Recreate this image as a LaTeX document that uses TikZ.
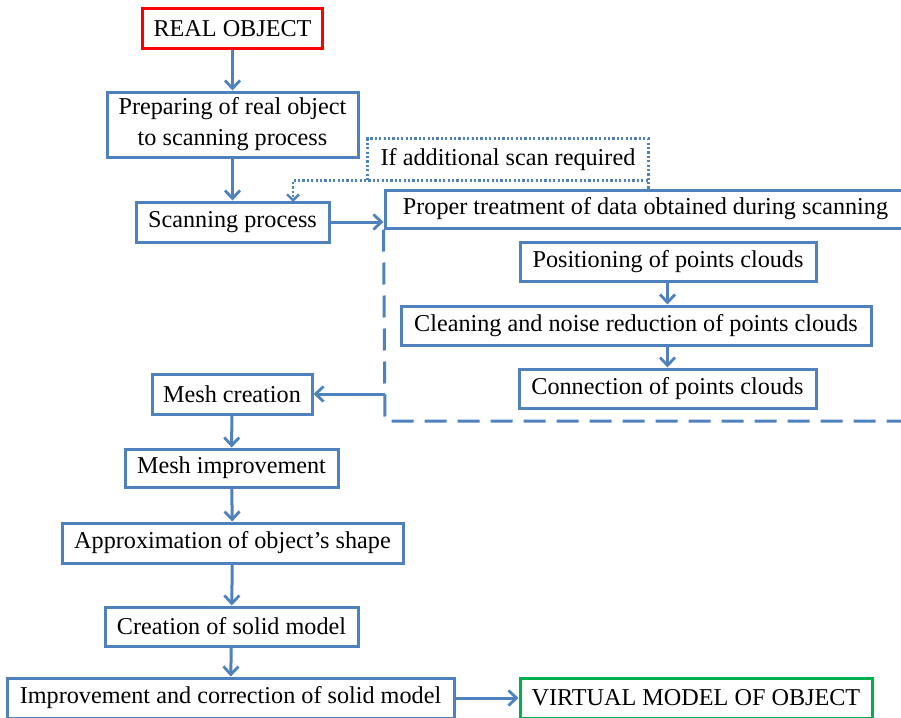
\documentclass[tikz,border=0pt]{standalone}
\usepackage{fontspec}
\setmainfont{Liberation Serif}
\usetikzlibrary{arrows.meta}
\definecolor{boxblue}{RGB}{79,129,189}
\definecolor{boxred}{RGB}{255,0,0}
\definecolor{boxgreen}{RGB}{0,176,80}
\tikzset{
  box/.style={draw=boxblue, line width=3pt, inner sep=0pt, align=center,
    font=\fontsize{24.2}{31}\selectfont, fill=white},
  arr/.style={draw=boxblue, line width=3pt,
    -{Straight Barb[length=8pt,width=15pt,line width=2.8pt]}},
  dotline/.style={draw=boxblue, line width=2.8pt, dash pattern=on 2.2pt off 2.2pt},
  dashline/.style={draw=boxblue, line width=3pt, dash pattern=on 22pt off 11pt},
}
\begin{document}
\begin{tikzpicture}[x=1pt,y=-1pt]
\useasboundingbox (0,0) rectangle (901,717);
% dashed region
\coordinate (dbl) at (385,421);
\coordinate (dbr) at (910,421);
\node[box, minimum width=521pt, minimum height=38pt] (proper) at (645.5,209) {Proper treatment of data obtained during scanning};
\draw[dashline] (proper.south west) -- (dbl) -- (dbr);
% nodes
\node[box, draw=boxred, minimum width=180pt, minimum height=40pt] (real) at (232.5,28.5) {REAL OBJECT};
\node[box, minimum width=251pt, minimum height=65pt] (prep) at (232.5,124.5) {Preparing of real object\\to scanning process};
\node[box, minimum width=193pt, minimum height=40pt] (scan) at (232.5,222) {Scanning process};
\node[inner sep=0pt, minimum width=280pt, minimum height=41pt, font=\fontsize{24.2}{31}\selectfont] (iflabel) at (508,159.5) {If additional scan required};
\node[box, minimum width=296pt, minimum height=39pt] (pos) at (668,261.5) {Positioning of points clouds};
\node[box, minimum width=470pt, minimum height=39pt] (clean) at (636,325.5) {Cleaning and noise reduction of points clouds};
\node[box, minimum width=297pt, minimum height=39pt] (conn) at (667.5,388.5) {Connection of points clouds};
\node[box, minimum width=160pt, minimum height=40pt] (mesh) at (232,394) {Mesh creation};
\node[box, minimum width=213pt, minimum height=38pt] (meshimp) at (231.5,468) {Mesh improvement};
\node[box, minimum width=341pt, minimum height=40pt] (approx) at (232.5,543) {Approximation of object’s shape};
\node[box, minimum width=253pt, minimum height=39pt] (solid) at (231.5,626.5) {Creation of solid model};
\node[box, minimum width=447pt, minimum height=40pt] (improve) at (230.5,698) {Improvement and correction of solid model};
\node[box, draw=boxgreen, minimum width=352pt, minimum height=40pt] (virtual) at (696,698) {VIRTUAL MODEL OF OBJECT};
% dotted label border and feedback connector
\coordinate (scanin) at (293,202);
\draw[dotline] (iflabel.south west) |- (iflabel.north east) -- (iflabel.south east);
\draw[dotline, -{Straight Barb[length=6pt,width=12pt,line width=2.4pt]}] (iflabel.east |- proper.north) -- (iflabel.south east) -| (scanin);
% connectors
\draw[arr] (real) -- (prep);
\draw[arr] (prep) -- (scan);
\draw[arr] (scan.east) -- (scan.east -| proper.west);
\draw[arr] (pos.south -| conn.north) -- (clean.north -| conn.north);
\draw[arr] (clean.south -| conn.north) -- (conn.north);
\draw[arr] (mesh.east -| dbl) -- (mesh.east);
\draw[arr] (mesh) -- (meshimp);
\draw[arr] (meshimp) -- (approx);
\draw[arr] (approx) -- (solid);
\draw[arr] (solid) -- (improve);
\draw[arr] (improve) -- (virtual);
\end{tikzpicture}
\end{document}
